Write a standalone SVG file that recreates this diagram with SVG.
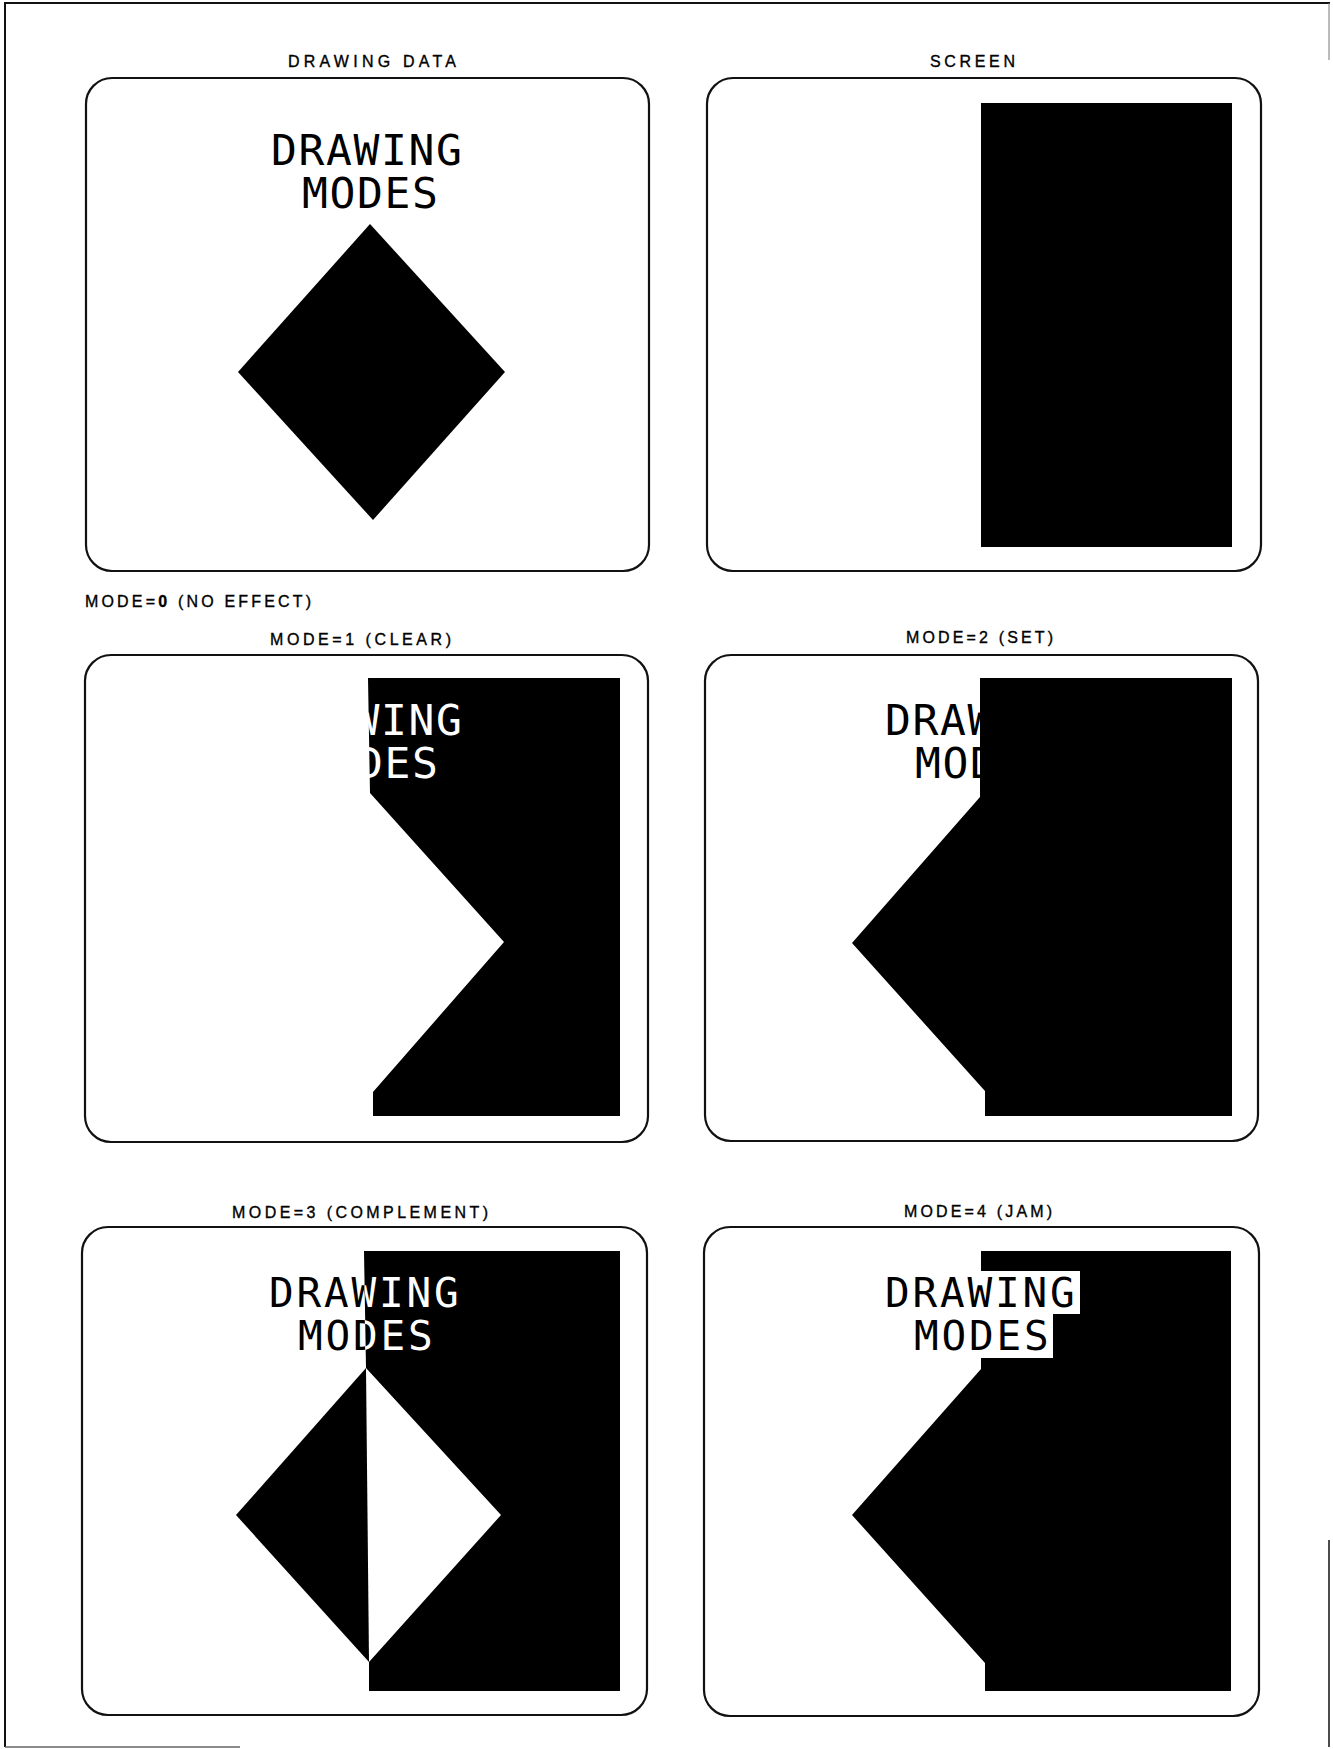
<svg xmlns="http://www.w3.org/2000/svg" width="1333" height="1749" viewBox="0 0 1333 1749">
<style>
.box{fill:none;stroke:#111;stroke-width:2.2}
.lbl{font-family:"Liberation Sans",Arial,sans-serif;font-size:16px;fill:#000;stroke:#000;stroke-width:0.35}
.big{font-family:"DejaVu Sans Mono","Liberation Mono",monospace;font-size:43px;letter-spacing:1.6px}
.big2{font-family:"DejaVu Sans Mono","Liberation Mono",monospace;font-size:41px;letter-spacing:2.8px}
.blk{fill:#000}
.wht{fill:#fff}
</style>
<defs>
<clipPath id="clip5"><polygon points="364,1251 620,1251 620,1691 369,1691"/></clipPath>
</defs>
<rect x="0" y="0" width="1333" height="1749" fill="#fff"/>
<g id="frame" fill="none" stroke="#111">
<path d="M5,1747 L5,3 L1330,3" stroke-width="2"/>
<path d="M1329,3 L1329,60" stroke-width="1" stroke="#777"/>
<path d="M1329,1540 L1329,1747" stroke-width="1.5"/>
<path d="M5,1747 L240,1747" stroke-width="1.5" stroke="#666"/>
</g>
<g id="panel-drawing-data">
<text class="lbl" x="288" y="67" textLength="168" lengthAdjust="spacing">DRAWING DATA</text>
<rect class="box" x="86" y="78" width="563" height="493" rx="26"/>
<text class="big blk" x="271" y="165">DRAWING</text>
<text class="big blk" x="302" y="208">MODES</text>
<polygon class="blk" points="370,224 505,372 373,520 238,372"/>
</g>
<g id="panel-screen">
<text class="lbl" x="930" y="67" textLength="85" lengthAdjust="spacing">SCREEN</text>
<rect class="box" x="707" y="78" width="554" height="493" rx="26"/>
<rect class="blk" x="981" y="103" width="251" height="444"/>
</g>
<g id="label-mode0">
<text class="lbl" x="85" y="607" textLength="226" lengthAdjust="spacing">MODE=<tspan font-weight="bold">0</tspan> (NO EFFECT)</text>
</g>
<g id="panel-mode1">
<text class="lbl" x="270" y="645" textLength="181" lengthAdjust="spacing">MODE=1 (CLEAR)</text>
<rect class="box" x="85" y="655" width="563" height="487" rx="26"/>
<polygon class="blk" points="368,678 620,678 620,1116 373,1116 373,1092 504,942 370,793"/>
<text class="big wht" x="271" y="735">DRAWING</text>
<text class="big wht" x="302" y="778">MODES</text>
</g>
<g id="panel-mode2">
<text class="lbl" x="906" y="643" textLength="147" lengthAdjust="spacing">MODE=2 (SET)</text>
<rect class="box" x="705" y="655" width="553" height="486" rx="26"/>
<polygon class="blk" points="980,678 1232,678 1232,1116 985,1116 985,1091 852,943 980,797"/>
<text class="big blk" x="885" y="735">DRAWING</text>
<text class="big blk" x="915" y="778">MODES</text>
</g>
<g id="panel-mode3">
<text class="lbl" x="232" y="1218" textLength="256" lengthAdjust="spacing">MODE=3 (COMPLEMENT)</text>
<rect class="box" x="82" y="1227" width="565" height="488" rx="26"/>
<polygon class="blk" points="364,1251 620,1251 620,1691 369,1691 369,1662 501,1515 366,1368"/>
<polygon class="blk" points="366,1368 369,1662 236,1515"/>
<text class="big2 blk" x="269" y="1307">DRAWING</text>
<text class="big2 blk" x="298" y="1350">MODES</text>
<g clip-path="url(#clip5)">
<text class="big2 wht" x="269" y="1307">DRAWING</text>
<text class="big2 wht" x="298" y="1350">MODES</text>
</g>
</g>
<g id="panel-mode4">
<text class="lbl" x="904" y="1217" textLength="148" lengthAdjust="spacing">MODE=4 (JAM)</text>
<rect class="box" x="704" y="1227" width="555" height="489" rx="26"/>
<polygon class="blk" points="981,1251 1231,1251 1231,1691 985,1691 985,1663 852,1515 981,1369"/>
<rect class="wht" x="883" y="1271" width="197" height="43"/>
<rect class="wht" x="913" y="1313" width="140" height="45"/>
<text class="big2 blk" x="885" y="1307">DRAWING</text>
<text class="big2 blk" x="914" y="1350">MODES</text>
</g>
<g id="connectors"/>
</svg>
